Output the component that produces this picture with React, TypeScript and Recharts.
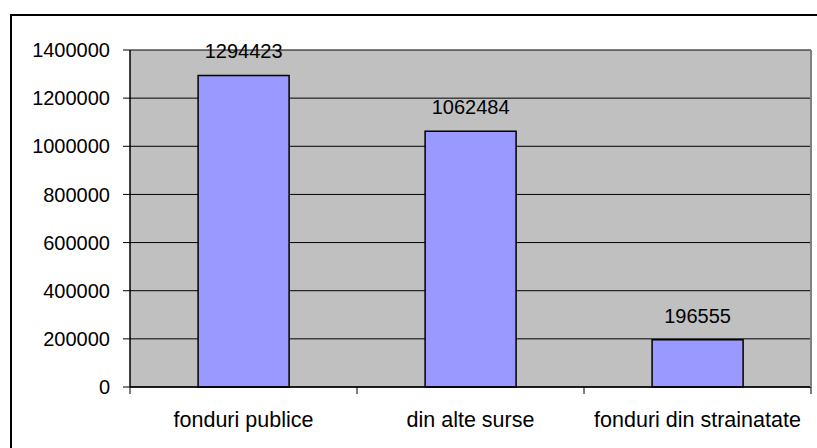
import {
  BarChart,
  Bar,
  XAxis,
  YAxis,
  CartesianGrid,
  LabelList,
} from "recharts";

const categories = ["fonduri publice", "din alte surse", "fonduri din strainatate"];
const amounts = [1294423, 1062484, 196555];
const yTicks = [0, 200000, 400000, 600000, 800000, 1000000, 1200000, 1400000];

const data = categories.map((name, i) => ({ name, value: amounts[i] }));

// category tick: label in the middle, tick marks on the band edges
const CategoryTick = (props: any) => {
  const { x, y, payload, index } = props;
  const half = payload && payload.offset ? payload.offset : 113.5;
  return (
    <g>
      <line x1={x - half} x2={x - half} y1={y - 7} y2={y} stroke="#000" />
      {index === categories.length - 1 && (
        <line x1={x + half} x2={x + half} y1={y - 7} y2={y} stroke="#000" />
      )}
      <text x={x} y={y} dy={33} textAnchor="middle" fill="#000" fontSize={21.5}>
        {payload.value}
      </text>
    </g>
  );
};

const App = () => {
  return (
    <div
      style={{
        position: "absolute",
        left: 0,
        top: 0,
        width: 817,
        height: 448,
        overflow: "hidden",
        background: "#fff",
        fontFamily: "'Liberation Sans', Arial, sans-serif",
      }}
    >
      <div
        style={{
          position: "absolute",
          left: 10,
          top: 14,
          width: 830,
          height: 460,
          border: "2px solid #000",
        }}
      />
      <BarChart
        width={817}
        height={448}
        data={data}
        margin={{ top: 50, right: 0, bottom: 21, left: 0 }}
        barCategoryGap="30%"
      >
        <CartesianGrid
          vertical={false}
          stroke="#000"
          fill="#C0C0C0"
          fillOpacity={1}
        />
        <XAxis
          dataKey="name"
          height={40}
          interval={0}
          tickLine={false}
          tickSize={7}
          tickMargin={0}
          axisLine={{ stroke: "#000", strokeWidth: 1.5 }}
          tick={<CategoryTick />}
        />
        <XAxis
          xAxisId="top"
          dataKey="name"
          orientation="top"
          height={0}
          tick={false}
          tickLine={false}
          axisLine={{ stroke: "#808080", strokeWidth: 2 }}
        />
        <YAxis
          width={130}
          domain={[0, 1400000]}
          ticks={yTicks}
          interval={0}
          tickSize={7}
          tickMargin={13}
          tick={{ fill: "#000", fontSize: 20 }}
          tickLine={{ stroke: "#000" }}
          axisLine={{ stroke: "#000", strokeWidth: 1.5 }}
        />
        <YAxis
          yAxisId="right"
          orientation="right"
          width={6}
          type="number"
          domain={[0, 1]}
          tick={false}
          tickLine={false}
          axisLine={{ stroke: "#808080", strokeWidth: 2 }}
        />
        <Bar
          dataKey="value"
          fill="#9999FF"
          stroke="#000"
          strokeWidth={1.5}
          isAnimationActive={false}
        >
          <LabelList
            dataKey="value"
            position="top"
            offset={17}
            fill="#000"
            fontSize={20}
          />
        </Bar>
      </BarChart>
    </div>
  );
};

export default App;
